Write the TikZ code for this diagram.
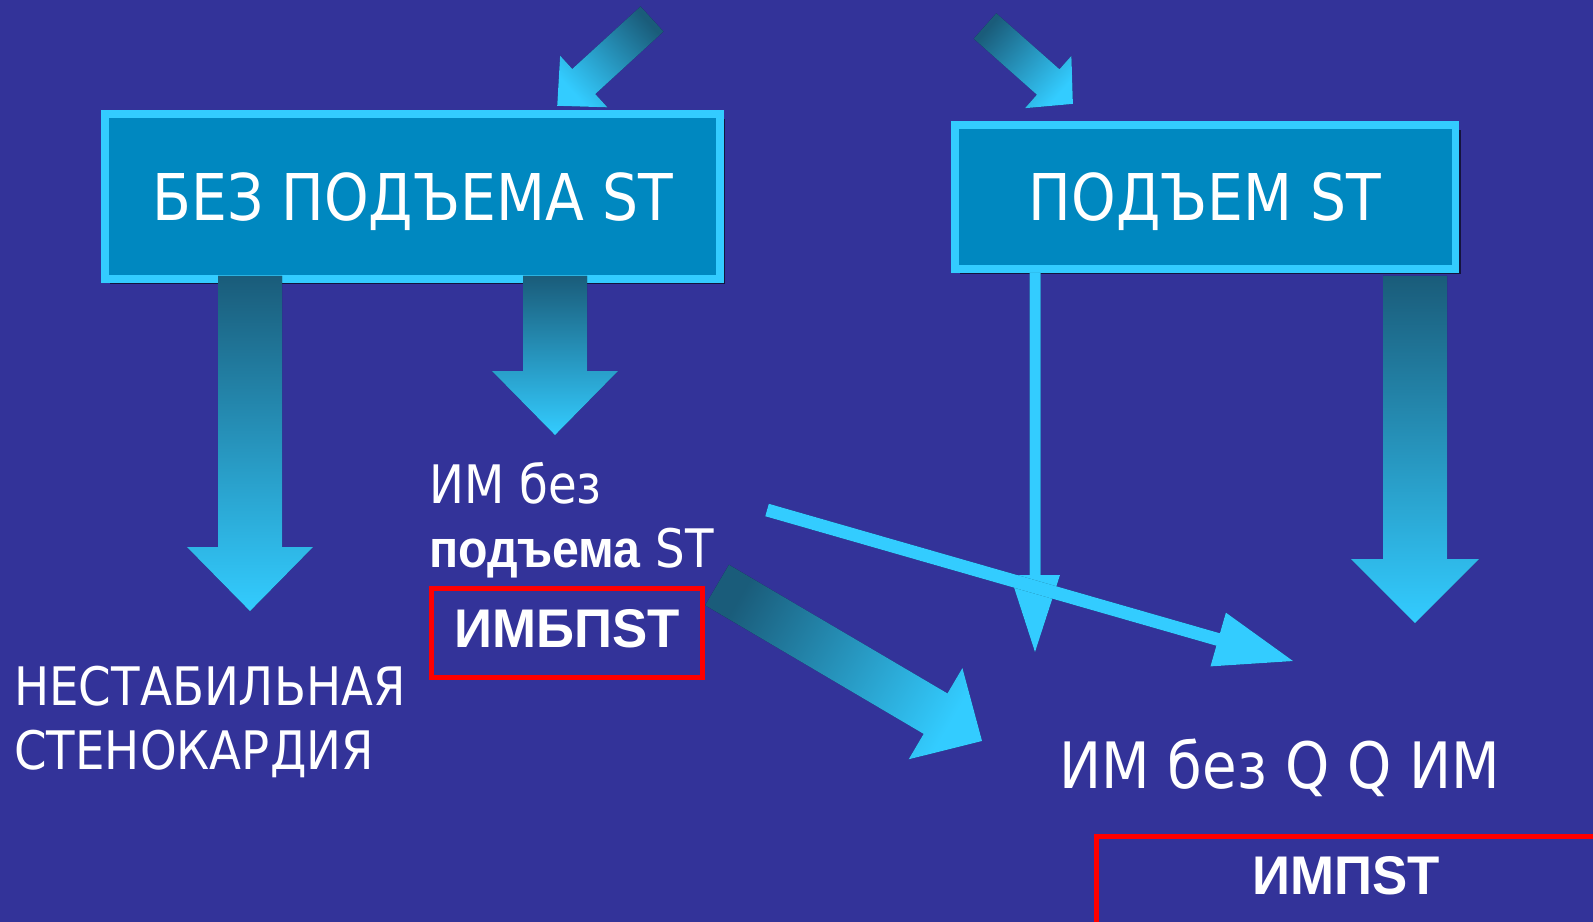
\documentclass[tikz,border=0pt]{standalone}
\usepackage{fontspec}
\setmainfont{DejaVu Sans}[FakeStretch=0.88]
\newfontfamily\heavyfont{Liberation Sans}[FakeStretch=0.97]
\newfontfamily\narrowheavy{Liberation Sans}[FakeStretch=0.91]
\usetikzlibrary{shadows}

\definecolor{slide}{HTML}{333399}
\definecolor{boxfill}{HTML}{0088C0}
\definecolor{boxedge}{HTML}{33CCFF}
\definecolor{arrowtip}{HTML}{33CCFF}
\definecolor{arrowtail}{HTML}{1A5C7A}
\definecolor{tagred}{HTML}{FF0000}

\tikzset{
  titlebox/.style={draw=boxedge, fill=boxfill, line width=4.5pt, text=white,
    text depth=0pt, font=\fontsize{36.7}{44}\selectfont,
    drop shadow={shadow xshift=3pt, shadow yshift=-3pt, opacity=.6, fill=black}},
  slidetext/.style={text=white, inner sep=0pt, anchor=base west,
    font=\fontsize{30.2}{36}\selectfont},
  tagbox/.style={draw=tagred, line width=2.85pt, text=white,
    font=\heavyfont\bfseries\fontsize{31}{37}\selectfont},
  gradarrow/.style={top color=arrowtip, bottom color=arrowtail},
  flatarrow/.style={top color=arrowtip, bottom color=arrowtip},
  arrowshadow/.style={fill=black, opacity=.5}
}

% block arrow: [style] {tail} {tip} {half shaft} {half head} {head length}
\newcommand{\blockarrow}[6][gradarrow]{%
  \path (#2); \pgfgetlastxy{\ax}{\ay}%
  \path (#3); \pgfgetlastxy{\bx}{\by}%
  \pgfmathsetmacro{\arrang}{atan2(\by-\ay,\bx-\ax)}%
  \pgfmathsetmacro{\arrlen}{veclen(\bx-\ax,\by-\ay)/0.5690551}%
  \pgfmathsetmacro{\arrneck}{\arrlen-#6}%
  \pgfmathsetmacro{\shadeang}{\arrang-90}%
  \fill[arrowshadow, xshift=2.5pt, yshift=-2.5pt, shift={(#2)}, rotate=\arrang]
    (0,-#4) -- (\arrneck,-#4) -- (\arrneck,-#5) -- (\arrlen,0)
    -- (\arrneck,#5) -- (\arrneck,#4) -- (0,#4) -- cycle;
  \path[#1, shading angle=\shadeang, shift={(#2)}, rotate=\arrang]
    (0,-#4) -- (\arrneck,-#4) -- (\arrneck,-#5) -- (\arrlen,0)
    -- (\arrneck,#5) -- (\arrneck,#4) -- (0,#4) -- cycle;
}

\begin{document}
\begin{tikzpicture}[x=0.02cm, y=-0.02cm]
\useasboundingbox (0,0) rectangle (1593,922);
\fill[slide] (0,0) rectangle (1593,922);
\clip (0,0) rectangle (1593,922);

% headings
\node[titlebox, minimum width=12.3cm, minimum height=3.3cm] (nostbox) at (412.5,196.5) {БЕЗ ПОДЪЕМА ST};
\node[titlebox, minimum width=10.02cm, minimum height=2.88cm] (stbox) at (1205,197) {ПОДЪЕМ ST};

% arrow ends
\coordinate (intail1) at (652,19);   \coordinate (intip1) at (557,106);
\coordinate (intail2) at (985,26);   \coordinate (intip2) at (1073,104);
\coordinate (uatail) at (250,276);   \coordinate (uatip) at (250,611);
\coordinate (nstail) at (555,276);   \coordinate (nstip) at (555,435);
\coordinate (sttail) at (1415,276);  \coordinate (sttip) at (1415,623);
\coordinate (tagtail) at (717,585);  \coordinate (tagtip) at (982,741);
\coordinate (thintail) at (1035,273); \coordinate (thintip) at (1035,652);
\coordinate (crosstail) at (767,510); \coordinate (crosstip) at (1293,661);

\blockarrow{intail1}{intip1}{17}{35}{36}
\blockarrow{intail2}{intip2}{17}{35}{33}
\blockarrow{uatail}{uatip}{32}{63}{64}
\blockarrow{nstail}{nstip}{32}{63}{64}
\blockarrow{sttail}{sttip}{32}{64}{64}
\blockarrow{tagtail}{tagtip}{23.5}{53}{54}
\blockarrow[flatarrow]{thintail}{thintip}{5.5}{25}{77}
\blockarrow[flatarrow]{crosstail}{crosstip}{6.5}{28}{78}

% texts
\node[slidetext] (unstable1) at (14,705) {НЕСТАБИЛЬНАЯ};
\node[slidetext] (unstable2) at (14,769) {СТЕНОКАРДИЯ};
\node[slidetext] (nstemi1) at (429,503) {ИМ без};
\node[slidetext] (nstemi2) at (429,567) {{\narrowheavy\bfseries подъема} ST};
\node[slidetext, font=\fontsize{36.4}{44}\selectfont] (qmi) at (1059,788) {ИМ без Q Q ИМ};
\node[tagbox, text depth=0.2cm, minimum width=5.42cm, minimum height=1.78cm] (nstemitag) at (567,633) {ИМБПST};
\node[tagbox, draw=none] (stemitag) at (1346,876) {ИМПST};
\draw[tagbox] (1096.5,836.5) rectangle (1660,990);
\end{tikzpicture}
\end{document}
